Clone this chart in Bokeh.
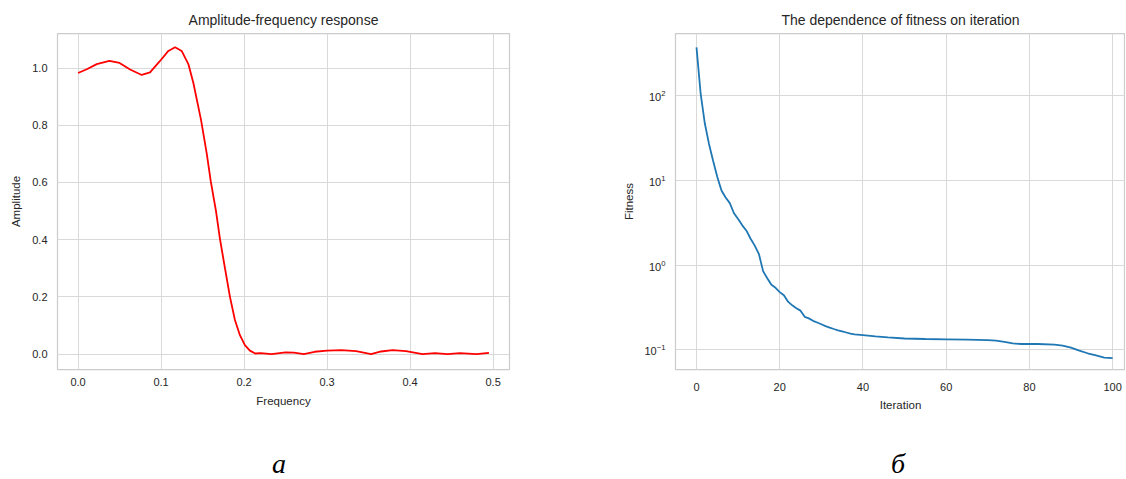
from bokeh.plotting import figure
from bokeh.layouts import row, column
from bokeh.models import FixedTicker, Range1d, NumeralTickFormatter
from bokeh.core.properties import value
from bokeh.embed import file_html
from bokeh.resources import INLINE

# ---- data: amplitude-frequency response ----
freq = [0.0, 0.0105, 0.0225, 0.0377, 0.050, 0.0627, 0.0767, 0.0867, 0.0988,
        0.1088, 0.1169, 0.1248, 0.1329, 0.139, 0.1482, 0.155, 0.160, 0.166,
        0.171, 0.177, 0.183, 0.189, 0.195, 0.201, 0.207, 0.2135, 0.220, 0.233,
        0.250, 0.260, 0.272, 0.285, 0.300, 0.317, 0.335, 0.353, 0.365, 0.379,
        0.395, 0.415, 0.430, 0.445, 0.460, 0.480, 0.495]
amplitude = [0.983, 0.996, 1.014, 1.025, 1.018, 0.995, 0.976, 0.985, 1.025,
             1.060, 1.073, 1.060, 1.014, 0.947, 0.818, 0.702, 0.602, 0.503,
             0.402, 0.300, 0.200, 0.119, 0.066, 0.031, 0.012, 0.002, 0.003, 0.000,
             0.006, 0.005, 0.000, 0.008, 0.012, 0.014, 0.010, 0.000, 0.009, 0.014,
             0.010, 0.000, 0.003, 0.000, 0.003, 0.000, 0.004]

# ---- data: fitness vs iteration ----
iteration = [0, 1, 2, 3, 4, 5, 6, 7, 8, 9, 10, 11, 12, 13, 14, 15, 16, 17, 18, 19,
             20, 21, 22, 23, 24, 25, 26, 27, 28, 29, 30, 31, 32, 33, 34, 35, 36, 37,
             38, 40, 43, 46, 50, 55, 60, 65, 70, 72, 74, 76, 78, 82, 86, 88, 90, 92,
             94, 96, 98, 100]
fitness = [373, 105, 47, 27, 17, 11, 7.6, 6.3, 5.4, 4.1, 3.5, 2.95, 2.55, 2.05, 1.7,
           1.35, 0.85, 0.70, 0.585, 0.54, 0.48, 0.44, 0.37, 0.335, 0.31, 0.29, 0.245,
           0.235, 0.22, 0.21, 0.20, 0.19, 0.183, 0.176, 0.17, 0.165, 0.16, 0.155,
           0.152, 0.149, 0.144, 0.140, 0.136, 0.134, 0.133, 0.132, 0.130, 0.128,
           0.124, 0.119, 0.117, 0.117, 0.115, 0.112, 0.106, 0.098, 0.091, 0.086,
           0.081, 0.0795]

freq_ticks = [0.0, 0.1, 0.2, 0.3, 0.4, 0.5]
amp_ticks = [0.0, 0.2, 0.4, 0.6, 0.8, 1.0]
iter_ticks = [0, 20, 40, 60, 80, 100]
fit_ticks = [0.1, 1, 10, 100]
panel_letters = ["а", "б"]

FONT = "Liberation Sans"
TXT = "#262626"


def style(p):
    p.outline_line_color = "#cccccc"
    p.outline_line_width = 1.25
    p.background_fill_color = "white"
    p.border_fill_color = "white"
    p.title.align = "center"
    p.title.text_font = FONT
    p.title.text_font_size = "14px"
    p.title.text_font_style = "normal"
    p.title.text_color = TXT
    p.title.standoff = 11
    for ax in p.axis:
        ax.axis_line_color = None
        ax.major_tick_line_color = None
        ax.minor_tick_line_color = None
        ax.major_tick_out = 0
        ax.major_tick_in = 0
        ax.minor_tick_out = 0
        ax.minor_tick_in = 0
        ax.major_label_text_font = FONT
        ax.major_label_text_font_size = "11px"
        ax.major_label_text_color = TXT
        ax.axis_label_text_font = FONT
        ax.axis_label_text_font_size = "11.5px"
        ax.axis_label_text_font_style = "normal"
        ax.axis_label_text_color = TXT
    p.yaxis.major_label_standoff = 10
    p.yaxis.axis_label_standoff = 7
    p.grid.grid_line_color = "#d9d9d9"
    p.grid.grid_line_width = 1


def letter_fig(width, text, cx, base):
    f = figure(width=width, height=39, output_backend="svg", toolbar_location=None,
               x_range=Range1d(0, width), y_range=Range1d(0, 39),
               x_axis_location=None, y_axis_location=None,
               min_border=0, min_border_left=0, min_border_right=0,
               min_border_top=0, min_border_bottom=0)
    f.outline_line_color = None
    f.grid.visible = False
    f.text(x=[cx], y=[base], text=[text], text_align="center",
           text_baseline="alphabetic", text_font=value("Liberation Serif"),
           text_font_style="italic", text_font_size="28px", text_color="black")
    return f


# ---- left panel ----
p1 = figure(width=567, height=440, output_backend="svg", toolbar_location=None,
            title="Amplitude-frequency response",
            x_range=Range1d(-0.02475, 0.51975), y_range=Range1d(-0.054, 1.121),
            min_border_left=57, min_border_right=58, min_border_top=33,
            min_border_bottom=71)
p1.line(freq, amplitude, line_color="#ff0000", line_width=1.8)
p1.xaxis.ticker = FixedTicker(ticks=freq_ticks)
p1.yaxis.ticker = FixedTicker(ticks=amp_ticks)
p1.xaxis.formatter = NumeralTickFormatter(format="0.0")
p1.yaxis.formatter = NumeralTickFormatter(format="0.0")
p1.xaxis.axis_label = "Frequency"
p1.yaxis.axis_label = "Amplitude"
style(p1)
p1.xaxis.major_label_standoff = 8
p1.xaxis.axis_label_standoff = 6

# ---- right panel ----
p2 = figure(width=558, height=440, output_backend="svg", toolbar_location=None,
            title="The dependence of fitness on iteration", y_axis_type="log",
            x_range=Range1d(-5.05, 103.1), y_range=Range1d(0.0585, 544),
            min_border_left=108, min_border_right=0, min_border_top=33,
            min_border_bottom=71)
p2.line(iteration, fitness, line_color="#1f77b4", line_width=1.8)
p2.xaxis.ticker = FixedTicker(ticks=iter_ticks)
p2.yaxis.ticker = FixedTicker(ticks=fit_ticks)
p2.xaxis.axis_label = "Iteration"
p2.yaxis.axis_label = "Fitness"
style(p2)
p2.xaxis.major_label_standoff = 13
p2.xaxis.axis_label_standoff = 5
p2.yaxis.axis_label_standoff = 6

l1 = letter_fig(567, panel_letters[0], 278.5, 16.5)
l2 = letter_fig(558, panel_letters[1], 330.5, 16.0)

layout = column(row(p1, p2), row(l1, l2))

open("out.html", "w").write(file_html(layout, INLINE))
